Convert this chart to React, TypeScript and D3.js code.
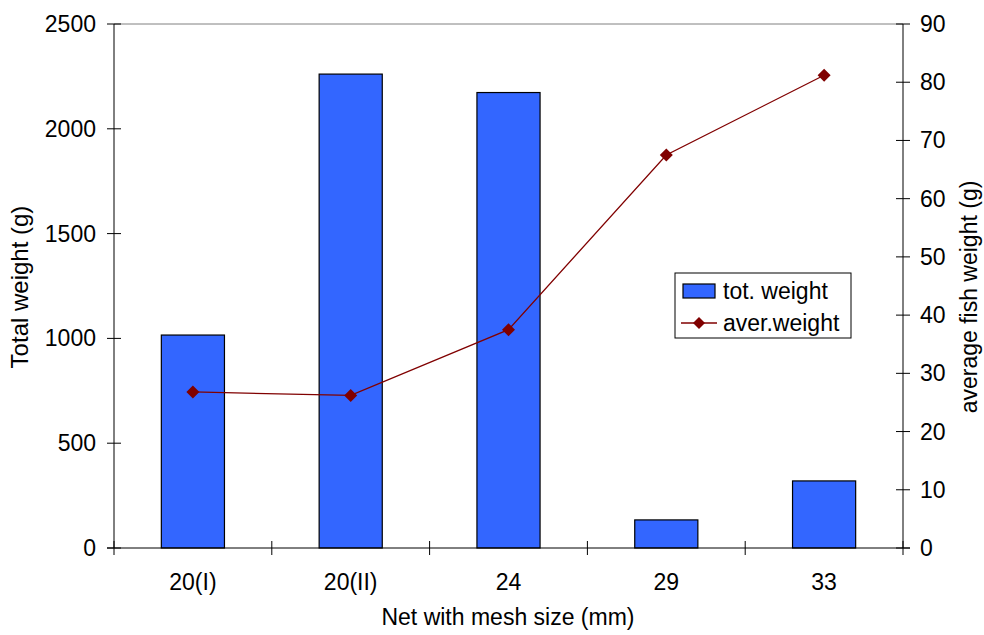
import React from "react";
import * as d3 from "d3";

const categories = ["20(I)", "20(II)", "24", "29", "33"];
const totWeight = [1016, 2261, 2173, 134, 320];
const averWeight = [26.8, 26.2, 37.5, 67.5, 81.2];
const leftTicks = [0, 500, 1000, 1500, 2000, 2500];
const rightTicks = [0, 10, 20, 30, 40, 50, 60, 70, 80, 90];

const W = 984, H = 635;
const m = { left: 114, right: 903, top: 24, bottom: 548 };
const FONT = "Liberation Sans, Arial, sans-serif";
const FS = 23;

export default function App() {
  const x = d3.scaleBand().domain(categories).range([m.left, m.right]).paddingInner(0).paddingOuter(0);
  const yL = d3.scaleLinear().domain([0, 2500]).range([m.bottom, m.top]);
  const yR = d3.scaleLinear().domain([0, 90]).range([m.bottom, m.top]);
  const bw = x.bandwidth() * 0.4;
  const line = d3.line<number>().x((_, i) => x(categories[i])! + x.bandwidth() / 2).y((d) => yR(d));
  const boundaries = [...categories.map((c) => x(c)!), m.right];
  const diamond = (cx: number, cy: number, r: number) => `M${cx},${cy - r}L${cx + r},${cy}L${cx},${cy + r}L${cx - r},${cy}Z`;

  return (
    <svg width={W} height={H} style={{ position: "absolute", left: 0, top: 0, fontFamily: FONT }}>
      <rect x={0} y={0} width={W} height={H} fill="#fff" />
      {/* top border */}
      <line x1={m.left} x2={m.right} y1={m.top} y2={m.top} stroke="#808080" strokeWidth={1} />
      {/* bars */}
      {totWeight.map((v, i) => (
        <rect key={i} x={x(categories[i])! + (x.bandwidth() - bw) / 2} y={yL(v)} width={bw} height={m.bottom - yL(v)}
          fill="#3366FF" stroke="#000" strokeWidth={1.2} />
      ))}
      {/* left axis */}
      <line x1={m.left} x2={m.left} y1={m.top} y2={m.bottom} stroke="#000" />
      {leftTicks.map((t) => (
        <g key={t}>
          <line x1={m.left - 7} x2={m.left + 7} y1={yL(t)} y2={yL(t)} stroke="#000" />
          <text x={m.left - 18} y={yL(t)} dy="0.35em" textAnchor="end" fontSize={FS}>{t}</text>
        </g>
      ))}
      {/* right axis */}
      <line x1={m.right} x2={m.right} y1={m.top} y2={m.bottom} stroke="#000" />
      {rightTicks.map((t) => (
        <g key={t}>
          <line x1={m.right - 7} x2={m.right + 7} y1={yR(t)} y2={yR(t)} stroke="#000" />
          <text x={m.right + 17} y={yR(t)} dy="0.35em" textAnchor="start" fontSize={FS}>{t}</text>
        </g>
      ))}
      {/* bottom axis */}
      <line x1={m.left - 7} x2={m.right + 7} y1={m.bottom} y2={m.bottom} stroke="#000" />
      {boundaries.map((b, i) => (
        <line key={i} x1={b} x2={b} y1={m.bottom - 7} y2={m.bottom + 7} stroke="#000" />
      ))}
      {categories.map((c) => (
        <text key={c} x={x(c)! + x.bandwidth() / 2} y={590} textAnchor="middle" fontSize={FS}>{c}</text>
      ))}
      {/* line series */}
      <path d={line(averWeight)!} fill="none" stroke="#800000" strokeWidth={1.3} />
      {averWeight.map((v, i) => (
        <path key={i} d={diamond(x(categories[i])! + x.bandwidth() / 2, yR(v), 6.5)} fill="#800000" />
      ))}
      {/* axis titles */}
      <text x={508} y={625} textAnchor="middle" fontSize={FS}>Net with mesh size (mm)</text>
      <text transform={`translate(28,287) rotate(-90)`} textAnchor="middle" fontSize={24}>Total weight (g)</text>
      <text transform={`translate(977,297) rotate(-90)`} textAnchor="middle" fontSize={FS}>average fish weight (g)</text>
      {/* legend */}
      <rect x={675} y={273} width={176} height={65} fill="#fff" stroke="#000" strokeWidth={1} />
      <rect x={683} y={284} width={32} height={14} fill="#3366FF" stroke="#000" strokeWidth={1.2} />
      <text x={723} y={299} fontSize={FS}>tot. weight</text>
      <line x1={681} x2={717} y1={323} y2={323} stroke="#800000" strokeWidth={1.3} />
      <path d={diamond(699, 323, 6)} fill="#800000" />
      <text x={723} y={331} fontSize={FS}>aver.weight</text>
    </svg>
  );
}
